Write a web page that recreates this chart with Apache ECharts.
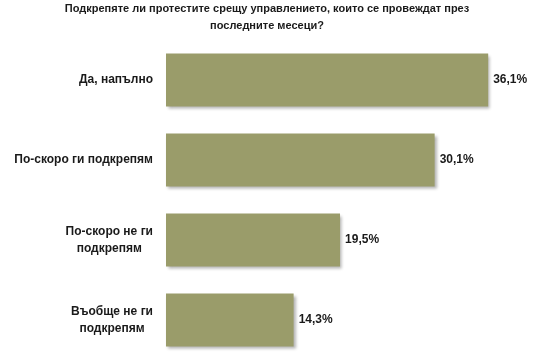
<!DOCTYPE html>
<html><head><meta charset="utf-8">
<script src="https://cdn.jsdelivr.net/npm/echarts@6/dist/echarts.min.js"></script>
<style>html,body{margin:0;padding:0;background:#fff}#c{width:534px;height:362px}</style>
</head><body><div id="c"></div>
<script>
const titleText = 'Подкрепяте ли протестите срещу управлението, които се провеждат през\nпоследните месеци?';
const categories = ['Да, напълно', 'По-скоро ги подкрепям', 'По-скоро не ги\nподкрепям', 'Въобще не ги\nподкрепям'];
const values = [36.1, 30.1, 19.5, 14.3];

const FONT = '"Liberation Sans", Arial, sans-serif';
const chart = echarts.init(document.getElementById('c'));
chart.setOption({
  animation: false,
  title: {
    text: titleText, left: 'center', top: 0, padding: [0, 5],
    textStyle: { fontFamily: FONT, fontSize: 11, fontWeight: 'bold', color: '#1a1a1a', lineHeight: 17 }
  },
  grid: { left: 166, top: 40, width: 357, height: 320, containLabel: false },
  xAxis: { type: 'value', min: 0, max: 40, show: false },
  yAxis: {
    type: 'category', data: categories, inverse: true,
    axisLine: { show: false }, axisTick: { show: false }, splitLine: { show: false },
    axisLabel: {
      margin: 13, align: 'right',
      fontFamily: FONT, fontSize: 12, fontWeight: 'bold', color: '#1a1a1a', lineHeight: 17,
      formatter: v => v.split('\n').map(l => '{c|' + l + '}').join('\n'),
      rich: { c: { align: 'center', fontFamily: FONT, fontSize: 12, fontWeight: 'bold', color: '#1a1a1a', lineHeight: 17 } }
    }
  },
  series: [{
    type: 'bar', data: values, barWidth: 53,
    itemStyle: { color: '#9a9c6a', shadowColor: 'rgba(0,0,0,0.3)', shadowBlur: 3, shadowOffsetX: 2, shadowOffsetY: 2 },
    label: {
      show: true, position: 'right', distance: 5,
      formatter: p => String(p.value).replace('.', ',') + '%',
      fontFamily: FONT, fontSize: 12, fontWeight: 'bold', color: '#1a1a1a'
    }
  }]
});
</script></body></html>
